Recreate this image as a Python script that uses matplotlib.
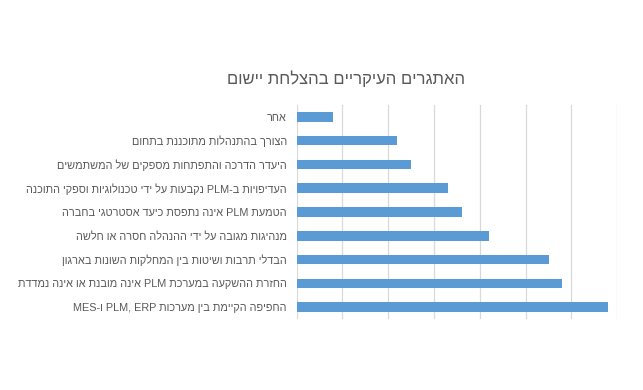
import re
import matplotlib
matplotlib.use("Agg")
import matplotlib.pyplot as plt

title = "האתגרים העיקריים בהצלחת יישום"
categories = [
    "אחר",
    "הצורך בהתנהלות מתוכננת בתחום",
    "היעדר הדרכה והתפתחות מספקים של המשתמשים",
    "העדיפויות ב-PLM נקבעות על ידי טכנולוגיות וספקי התוכנה",
    "הטמעת PLM אינה נתפסת כיעד אסטרטגי בחברה",
    "מנהיגות מגובה על ידי ההנהלה חסרה או חלשה",
    "הבדלי תרבות ושיטות בין המחלקות השונות בארגון",
    "החזרת ההשקעה במערכת PLM אינה מובנת או אינה נמדדת",
    "החפיפה הקיימת בין מערכות PLM, ERP ו-MES",
]
values = [4, 11, 12.5, 16.5, 18, 21, 27.5, 29, 34]


def visual(s):
    r = s[::-1]
    return re.sub(r"[A-Za-z0-9]+(?:[ ,.]+[A-Za-z0-9]+)*", lambda m: m.group(0)[::-1], r)


fam = ["Liberation Sans", "DejaVu Sans"]
plt.rcParams["font.family"] = fam

fig = plt.figure(figsize=(6.43, 3.90), dpi=100)
ax = fig.add_axes([0.4614, 0.182, 0.4986, 0.549])

y = list(range(len(categories)))[::-1]
ax.barh(y, values, height=0.4, color="#5B9BD5", zorder=3)
ax.set_xlim(0, 35)
ax.set_ylim(-0.5, len(categories) - 0.5)
ax.set_xticks(range(0, 36, 5))
ax.set_xticklabels([])
ax.tick_params(axis="x", length=0)
ax.set_yticks(y)
ax.set_yticklabels([visual(c) for c in categories], fontsize=7.8, color="#595959")
ax.tick_params(axis="y", length=0, pad=7)
ax.grid(axis="x", color="#D9D9D9", linewidth=0.9, zorder=0)
for sp in ax.spines.values():
    sp.set_visible(False)

fig.text(0.538, 0.797, visual(title), ha="center", va="center", fontsize=12, color="#595959")

fig.savefig("out.png", dpi=100)
